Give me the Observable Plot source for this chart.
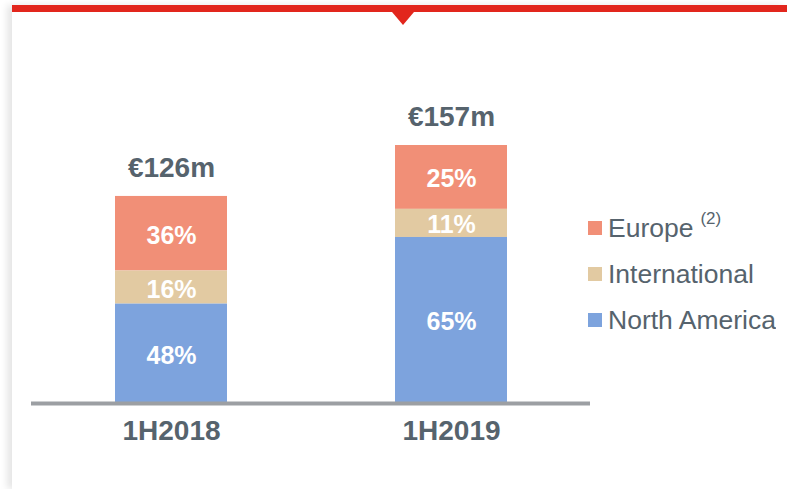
<!DOCTYPE html>
<html>
<head>
<meta charset="utf-8">
<script src="https://cdn.jsdelivr.net/npm/d3@7"></script>
<script src="https://cdn.jsdelivr.net/npm/@observablehq/plot@0.6"></script>
<style>
  html, body { margin: 0; padding: 0; background: #ffffff; }
  body { width: 787px; height: 489px; position: relative; overflow: hidden; font-family: "Liberation Sans", Arial, sans-serif; }
  #card { position: absolute; left: 12px; top: 5px; right: 0; bottom: 0; background: #fff; box-shadow: -5px 0 7px rgba(0,0,0,0.10); }
  #redbar { position: absolute; left: 12px; top: 5px; right: 0; height: 7px; background: #e2261d; }
  #tri { position: absolute; left: 392px; top: 12px; width: 0; height: 0; border-left: 11.5px solid transparent; border-right: 11.5px solid transparent; border-top: 13px solid #e2261d; }
  #chart { position: absolute; left: 0; top: 0; }
  #legend { position: absolute; left: 588px; top: 205px; }
  .leg-swatches { font-family: "Liberation Sans", Arial, sans-serif !important; font-size: 26.5px !important; color: #56636d !important; }
  .leg-swatch { height: 46px; display: flex; align-items: center; margin: 0 !important; padding: 0 !important; }
  .leg-swatch svg { margin-right: 6px !important; }
  .leg-swatch sup { font-size: 17px; margin-left: 7px; position: relative; top: -9px; }
</style>
</head>
<body>
<div id="card"></div>
<div id="chart"></div>
<div id="redbar"></div>
<div id="tri"></div>
<div id="legend"></div>
<script>
const periods = ["1H2018", "1H2019"];
const totals = [126, 157];
const totalLabels = ["€126m", "€157m"];
const regions = ["Europe", "International", "North America"];
const colors = ["#f18f77", "#e2caa2", "#7da3dd"];
const share2018 = [36, 16, 48];
const share2019 = [25, 11, 65];
const shares = [share2018, share2019];

// segment table: each period's total split by its regional shares
const rows = [];
periods.forEach((p, i) => {
  const s = shares[i];
  const sum = d3.sum(s);
  regions.forEach((r, j) => {
    rows.push({period: p, region: r, pct: s[j], value: totals[i] * s[j] / sum});
  });
});
const totalRows = periods.map((p, i) => ({period: p, total: totals[i], label: totalLabels[i]}));

const stackOrder = ["North America", "International", "Europe"];
const textColor = "#56636d";

const chart = Plot.plot({
  width: 787,
  height: 489,
  marginLeft: 31,
  marginRight: 197,
  marginTop: 0,
  marginBottom: 87,
  style: {background: "transparent", fontFamily: "Liberation Sans, Arial, sans-serif"},
  x: {domain: periods, range: [31, 591], paddingInner: 0.6, paddingOuter: 0.3, axis: null},
  y: {domain: [0, 157], range: [403, 145], axis: null},
  color: {domain: regions, range: colors},
  marks: [
    Plot.barY(rows, Plot.stackY({x: "period", y: "value", fill: "region", order: stackOrder, inset: 0})),
    Plot.text(rows, Plot.stackY({x: "period", y: "value", z: "region", order: stackOrder, text: d => d.pct + "%",
      fill: "white", fontSize: 25, fontWeight: "bold", dy: 2})),
    Plot.ruleY([0], {stroke: "#9c9fa3", strokeWidth: 4}),
    Plot.text(totalRows, {x: "period", y: "total", text: "label", dy: -28, fontSize: 28, fontWeight: "bold", fill: textColor}),
    Plot.text(periods, {x: d => d, frameAnchor: "bottom", lineAnchor: "top", dy: 18, fontSize: 28, fontWeight: "bold", fill: textColor})
  ]
});
document.getElementById("chart").appendChild(chart);

const legend = Plot.legend({
  color: {domain: regions, range: colors},
  legend: "swatches",
  columns: 1,
  swatchSize: 14,
  className: "leg",
  style: {fontSize: "26.5px", color: textColor}
});
document.getElementById("legend").appendChild(legend);
// add the "(2)" note marker after "Europe"
for (const el of legend.querySelectorAll("*")) {
  if (el.children.length === 0 && el.textContent === "Europe") {
    const sup = document.createElement("sup");
    sup.textContent = "(2)";
    el.after(sup);
    el.style.overflow = "visible";
    break;
  }
}
</script>
</body>
</html>
